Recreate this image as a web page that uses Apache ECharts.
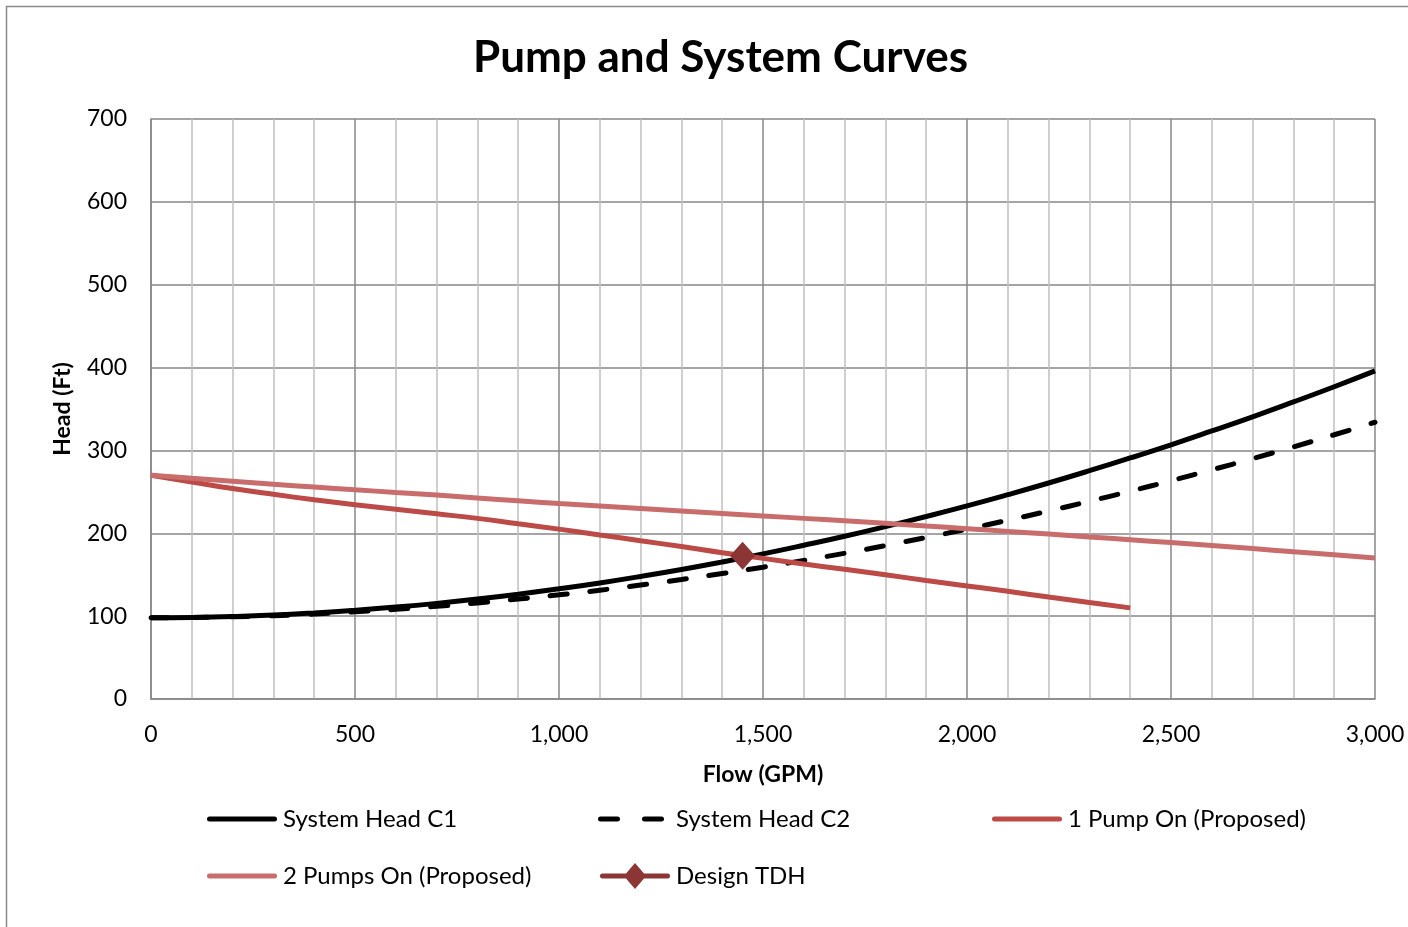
<!DOCTYPE html>
<html>
<head>
<meta charset="utf-8">
<script src="https://cdn.jsdelivr.net/npm/echarts@6/dist/echarts.min.js"></script>
<style>
  html, body { margin: 0; padding: 0; background: #fff; }
  #chart { width: 1408px; height: 927px; }
</style>
</head>
<body>
<div id="chart"></div>
<script>
// Flow values (GPM) at which the curves are tabulated
const flow = [0, 100, 200, 300, 400, 500, 600, 700, 800, 900, 1000, 1100, 1200, 1300, 1400, 1500,
              1600, 1700, 1800, 1900, 2000, 2100, 2200, 2300, 2400, 2500, 2600, 2700, 2800, 2900, 3000];

// Head (Ft) for each curve
const systemHeadC1 = [98, 98.4, 99.5, 101.3, 103.9, 107.1, 110.9, 115.4, 120.6, 126.5, 133.0, 140.1,
                      147.9, 156.3, 165.4, 175.1, 185.5, 196.4, 208.1, 220.3, 233.1, 246.6, 260.7,
                      275.5, 290.9, 306.8, 323.5, 340.6, 358.5, 376.9, 396];
const systemHeadC2 = [98, 98.3, 99.2, 100.6, 102.6, 105.2, 108.2, 111.8, 115.9, 120.6, 125.7, 131.3,
                      137.5, 144.2, 151.4, 159.1, 167.3, 175.9, 185.2, 194.9, 205.0, 215.7, 226.9,
                      238.6, 250.8, 263.4, 276.6, 290.1, 304.3, 318.9, 334];
// single pump curve runs to 2,400 GPM
const onePumpOn = [270, 262, 254, 247, 240.5, 234.5, 229, 223.5, 218, 211.5, 205, 198, 191, 184,
                   176.5, 169.7, 163, 156.5, 150, 143, 136.5, 130, 123, 116.5, 110];
const twoPumpsOn = [270, 266.3, 262.7, 259.2, 255.8, 252.5, 249.3, 246.2, 242.5, 239.2, 236, 233,
                    230, 227, 224, 221, 218, 215, 212, 208.8, 205.6, 202.3, 199, 195.6, 192.2,
                    188.8, 185.3, 181.5, 177.8, 174, 170.2];

// Design point
const designFlow = [1450];
const designHead = [173];

const pairs = (ys) => ys.map((y, i) => [flow[i], y]);

const FONT = 'Lato';
const GRID_DARK = '#878787';
const GRID_LIGHT = '#c0c0c0';

const COLOR_C = '#000000';
const COLOR_ONE = '#bc4a47';
const COLOR_TWO = '#c86c6c';
const COLOR_DESIGN = '#8b3634';

// Legend glyphs: solid bar, two dashes, bar with a diamond
const ICON_SOLID = 'path://M2.5,0 L67.5,0 A2.5,2.5 0 0 1 67.5,5 L2.5,5 A2.5,2.5 0 0 1 2.5,0 Z';
const ICON_DASHED = 'path://M2.5,0 L19.5,0 A2.5,2.5 0 0 1 19.5,5 L2.5,5 A2.5,2.5 0 0 1 2.5,0 Z ' +
                    'M46.5,0 L63.5,0 A2.5,2.5 0 0 1 63.5,5 L46.5,5 A2.5,2.5 0 0 1 46.5,0 Z';
const ICON_DIAMOND = 'path://M2.5,10.5 L26,10.5 L35,0 L44,10.5 L67.5,10.5 A2.5,2.5 0 0 1 67.5,15.5 ' +
                     'L44,15.5 L35,26 L26,15.5 L2.5,15.5 A2.5,2.5 0 0 1 2.5,10.5 Z';

const chart = echarts.init(document.getElementById('chart'), null, { renderer: 'canvas' });

const seriesNames = ['System Head C1', 'System Head C2', '1 Pump On (Proposed)', '2 Pumps On (Proposed)', 'Design TDH'];

function legendAt(name, icon, w, h, left, centerY, textGap) {
  return {
    data: [{ name: name, icon: icon }],
    left: left,
    top: centerY - 14,
    padding: 0,
    itemWidth: w,
    itemHeight: h,
    itemGap: 0,
    textStyle: { fontFamily: FONT, fontSize: 24, color: '#000', lineHeight: 28, padding: [0, 0, 0, textGap] },
    selectedMode: false
  };
}

chart.setOption({
  animation: false,
  backgroundColor: '#fff',
  title: {
    text: 'Pump and System Curves',
    left: 468,
    top: 31,
    textStyle: { fontFamily: FONT, fontSize: 44, fontWeight: 'bold', color: '#000' }
  },
  graphic: [{
    type: 'rect',
    shape: { x: 6.5, y: 6.5, width: 1420, height: 940 },
    style: { fill: null, stroke: '#8a8a8a', lineWidth: 1.5 },
    silent: true
  }],
  legend: [
    legendAt(seriesNames[0], ICON_SOLID, 70, 5, 207, 819, 1),
    legendAt(seriesNames[1], ICON_DASHED, 66, 5, 598, 819, 7),
    legendAt(seriesNames[2], ICON_SOLID, 70, 5, 992, 819, 1),
    legendAt(seriesNames[3], ICON_SOLID, 70, 5, 207, 876, 1),
    legendAt(seriesNames[4], ICON_DIAMOND, 70, 26, 600, 876, 1)
  ],
  grid: { left: 151, right: 33, top: 119, bottom: 228 },
  xAxis: {
    type: 'value',
    min: 0,
    max: 3000,
    interval: 500,
    name: 'Flow (GPM)',
    nameLocation: 'middle',
    nameGap: 64,
    nameTextStyle: { fontFamily: FONT, fontSize: 23, fontWeight: 'bold', color: '#000' },
    axisLine: { show: true, lineStyle: { color: GRID_DARK, width: 1.5 } },
    axisTick: { show: false },
    axisLabel: {
      fontFamily: FONT, fontSize: 23, color: '#000', margin: 24,
      formatter: (v) => v.toLocaleString('en-US')
    },
    splitLine: { show: true, lineStyle: { color: GRID_DARK, width: 1.5 } },
    minorTick: { show: false, splitNumber: 5 },
    minorSplitLine: { show: true, lineStyle: { color: GRID_LIGHT, width: 1.5 } }
  },
  yAxis: {
    type: 'value',
    min: 0,
    max: 700,
    interval: 100,
    name: 'Head (Ft)',
    nameLocation: 'middle',
    nameGap: 77,
    nameRotate: 90,
    nameTextStyle: { fontFamily: FONT, fontSize: 23, fontWeight: 'bold', color: '#000' },
    axisLine: { show: true, lineStyle: { color: GRID_DARK, width: 1.5 } },
    axisTick: { show: false },
    axisLabel: { fontFamily: FONT, fontSize: 23, color: '#000', margin: 24 },
    splitLine: { show: true, lineStyle: { color: GRID_DARK, width: 1.5 } }
  },
  series: [
    {
      name: seriesNames[0],
      type: 'line',
      data: pairs(systemHeadC1),
      smooth: true,
      symbol: 'none',
      lineStyle: { color: COLOR_C, width: 5 },
      itemStyle: { color: COLOR_C }
    },
    {
      name: seriesNames[1],
      type: 'line',
      data: pairs(systemHeadC2),
      smooth: true,
      symbol: 'none',
      lineStyle: { color: COLOR_C, width: 5, type: [17, 23], cap: 'round' },
      itemStyle: { color: COLOR_C }
    },
    {
      name: seriesNames[2],
      type: 'line',
      data: pairs(onePumpOn),
      smooth: true,
      symbol: 'none',
      lineStyle: { color: COLOR_ONE, width: 5 },
      itemStyle: { color: COLOR_ONE }
    },
    {
      name: seriesNames[3],
      type: 'line',
      data: pairs(twoPumpsOn),
      smooth: true,
      symbol: 'none',
      lineStyle: { color: COLOR_TWO, width: 5 },
      itemStyle: { color: COLOR_TWO }
    },
    {
      name: seriesNames[4],
      type: 'line',
      data: designFlow.map((x, i) => [x, designHead[i]]),
      symbol: 'diamond',
      symbolSize: [25, 28],
      showSymbol: true,
      lineStyle: { color: COLOR_DESIGN, width: 5 },
      itemStyle: { color: COLOR_DESIGN },
      z: 5
    }
  ]
});
</script>
</body>
</html>
